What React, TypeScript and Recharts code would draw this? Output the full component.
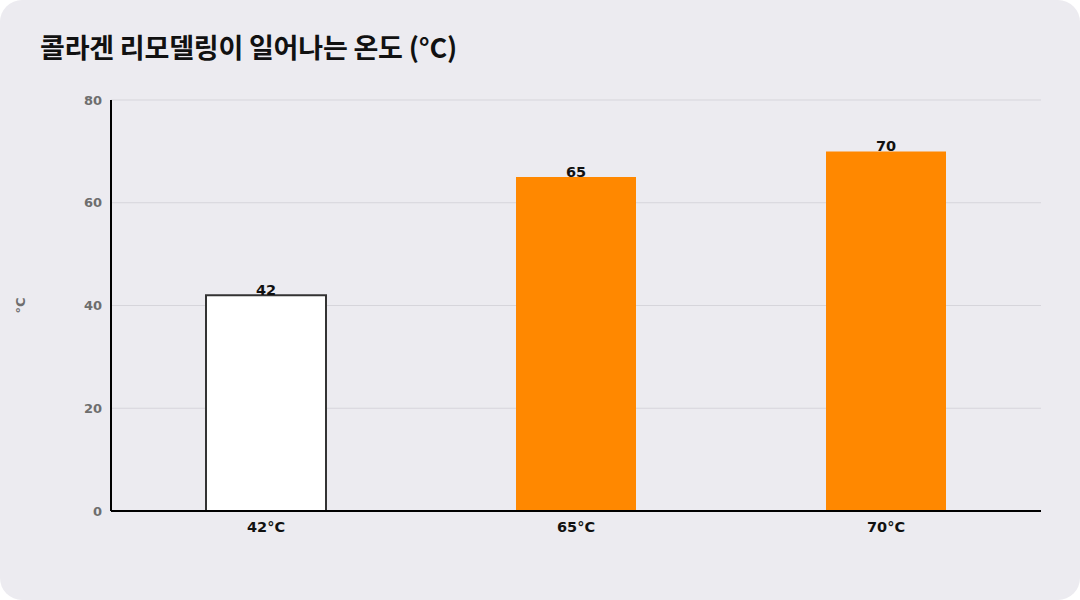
import React from "react";
import {
  BarChart,
  Bar,
  XAxis,
  YAxis,
  CartesianGrid,
  LabelList,
  Cell,
} from "recharts";

// 데이터
const categories = ["42°C", "65°C", "70°C"];
const temps = [42, 65, 70];
const yTicks = [0, 20, 40, 60, 80];

const BG = "#ECEBF0";
const ORANGE = "#FF8800";
const FONT = "'Noto Sans CJK KR', 'Noto Sans', sans-serif";
const NUM_FONT = "'DejaVu Sans', 'Noto Sans', sans-serif";

const data = categories.map((name, i) => ({ name, value: temps[i] }));

export default function App() {
  return (
    <div
      style={{
        position: "absolute",
        left: 0,
        top: 0,
        width: 1080,
        height: 600,
        background: BG,
        borderRadius: 22,
        fontFamily: FONT,
        overflow: "hidden",
      }}
    >
      <div
        style={{
          position: "absolute",
          left: 40,
          top: 27,
          fontSize: 27,
          fontWeight: 700,
          color: "#111",
          letterSpacing: -0.2,
        }}
      >
        콜라겐 리모델링이 일어나는 온도 (°C)
      </div>
      <BarChart
        width={1080}
        height={600}
        data={data}
        margin={{ top: 100, right: 39, left: 0, bottom: 59 }}
        barSize={120}
      >
        <CartesianGrid vertical={false} stroke="#D6D5DB" />
        <XAxis
          dataKey="name"
          axisLine={{ stroke: "#000", strokeWidth: 2 }}
          tickLine={false}
          tickMargin={5}
          tick={{ fill: "#111", fontSize: 14.5, fontWeight: 700, fontFamily: NUM_FONT }}
        />
        <YAxis
          width={111}
          domain={[0, 80]}
          ticks={yTicks}
          axisLine={{ stroke: "#000", strokeWidth: 2 }}
          tickLine={false}
          tickMargin={3}
          tick={{ fill: "#6E6E6E", fontSize: 13, fontWeight: 700, fontFamily: NUM_FONT }}
          label={{
            value: "°C",
            angle: -90,
            position: "insideLeft",
            offset: 20,
            style: { fill: "#6E6E6E", fontSize: 13, fontWeight: 700, fontFamily: NUM_FONT, textAnchor: "middle" },
          }}
        />
        <Bar dataKey="value" isAnimationActive={false}>
          {data.map((d, i) => (
            <Cell
              key={d.name}
              fill={i === 0 ? "#FFFFFF" : ORANGE}
              stroke={i === 0 ? "#333" : "none"}
              strokeWidth={i === 0 ? 2 : 0}
            />
          ))}
          <LabelList
            dataKey="value"
            position="top"
            offset={0}
            style={{ fill: "#111", fontSize: 14.5, fontWeight: 700, fontFamily: NUM_FONT }}
          />
        </Bar>
      </BarChart>
    </div>
  );
}
